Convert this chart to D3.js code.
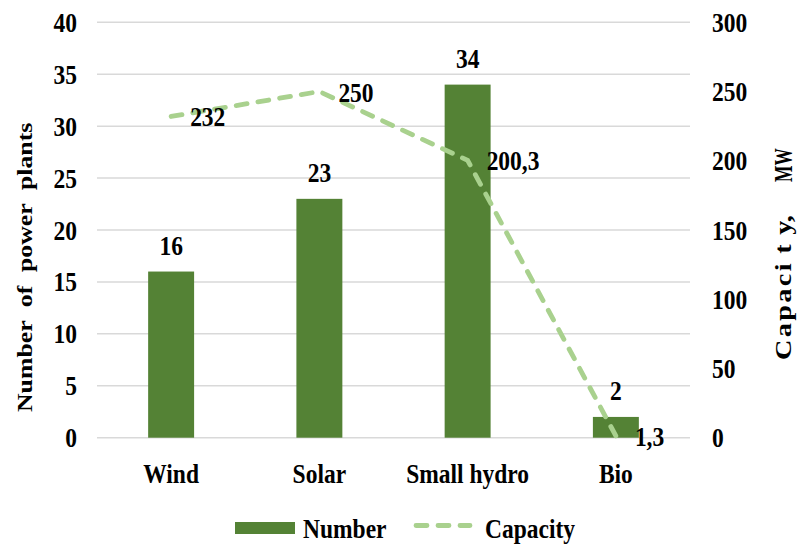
<!DOCTYPE html>
<html><head><meta charset="utf-8">
<script src="https://cdn.jsdelivr.net/npm/d3@7"></script>
<style>
body{margin:0;background:#fff;}
svg text{font-family:'Liberation Serif','DejaVu Serif',serif;font-weight:700;fill:#000;}
</style></head>
<body>
<svg id="c" width="798" height="546"></svg>
<script>
const categories = ["Wind","Solar","Small hydro","Bio"];
const numberValues = [16,23,34,2];
const capacityValues = [232,250,200.3,1.3];
const capacityLabels = ["232","250","200,3","1,3"];
const leftTicks = [0,5,10,15,20,25,30,35,40];
const rightTicks = [0,50,100,150,200,250,300];

const svg = d3.select("#c");
const L = 97, R = 690, T = 22.3, B = 437.7;
const x = d3.scaleBand().domain(categories).range([L,R]).paddingInner(0.69).paddingOuter(0.345);
const yL = d3.scaleLinear().domain([0,40]).range([B,T]);
const yR = d3.scaleLinear().domain([0,300]).range([B,T]);
const fs = 23.5, SY = 1.2;
const cx = c => x(c) + x.bandwidth()/2;

function put(g, data, fx, fy, ftxt, anchor){
  return g.selectAll(null).data(data).join("text")
    .attr("transform",(d,i)=>`translate(${fx(d,i)},${fy(d,i)}) scale(1,${SY})`)
    .attr("text-anchor",anchor).style("font-size",fs+"px")
    .text(ftxt);
}

// gridlines
svg.append("g").selectAll("line").data(leftTicks).join("line")
  .attr("x1",L).attr("x2",R).attr("y1",d=>yL(d)).attr("y2",d=>yL(d))
  .attr("stroke","#D9D9D9").attr("stroke-width",1.5);

// tick labels
put(svg.append("g"), leftTicks, ()=>77, d=>yL(d)+9.5, d=>d, "end");
put(svg.append("g"), rightTicks, ()=>712, d=>yR(d)+9.5, d=>d, "start");
put(svg.append("g"), categories, d=>cx(d), ()=>483, d=>d, "middle");

// bars
svg.append("g").selectAll("rect").data(categories).join("rect")
  .attr("x",d=>x(d)).attr("width",x.bandwidth())
  .attr("y",(d,i)=>yL(numberValues[i])).attr("height",(d,i)=>B-yL(numberValues[i]))
  .attr("fill","#548235");

// bar labels
put(svg.append("g"), categories, d=>cx(d), (d,i)=>yL(numberValues[i])-17, (d,i)=>numberValues[i], "middle");

// capacity line
const line = d3.line().x((d,i)=>cx(categories[i])).y(d=>yR(d));
svg.append("path").datum(capacityValues).attr("d",line)
  .attr("fill","none").attr("stroke","#A9D18E").attr("stroke-width",4.8)
  .attr("stroke-dasharray","11,11").attr("stroke-linecap","round");

// capacity labels
put(svg.append("g"), capacityValues, (d,i)=>cx(categories[i])+19, d=>yR(d)+10, (d,i)=>capacityLabels[i], "start");

// axis titles
svg.append("text").attr("transform",`translate(32,412) rotate(-90) scale(1.2,1)`)
  .attr("text-anchor","start").style("font-size","21.5px").style("word-spacing","6px")
  .text("Number of power plants");

const t2 = svg.append("text").attr("transform",`translate(791,360) rotate(-90) scale(1.2,1)`)
  .attr("text-anchor","start").style("font-size",fs+"px");
t2.append("tspan").style("letter-spacing","2px").text("Capaci");
t2.append("tspan").attr("dx",6).text("t");
t2.append("tspan").attr("dx",8).text("y,");
svg.append("text").attr("transform",`translate(792,182) rotate(-90) scale(0.74,1.05)`)
  .attr("text-anchor","start").style("font-size",fs+"px").text("MW");

// legend
const lg = svg.append("g");
lg.append("rect").attr("x",235).attr("y",522).attr("width",60).attr("height",12).attr("fill","#548235");
lg.append("text").attr("transform",`translate(303,538) scale(1,1.15)`).style("font-size",fs+"px").text("Number");
lg.append("line").attr("x1",416).attr("x2",470).attr("y1",525.5).attr("y2",525.5)
  .attr("stroke","#A9D18E").attr("stroke-width",4.8).attr("stroke-dasharray","11,11").attr("stroke-linecap","round");
lg.append("text").attr("transform",`translate(485,538) scale(1,1.15)`).style("font-size",fs+"px").text("Capacity");
</script>
</body></html>
